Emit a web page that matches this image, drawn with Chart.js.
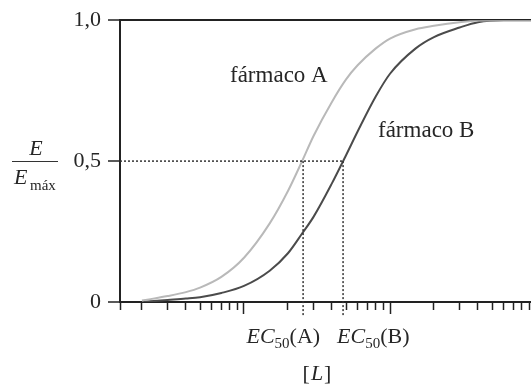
<!DOCTYPE html>
<html>
<head>
<meta charset="utf-8">
<script src="https://cdn.jsdelivr.net/npm/chart.js@4/dist/chart.umd.min.js"></script>
<style>
  body { margin: 0; background: #fff; }
  #wrap { width: 531px; height: 385px; position: relative; }
</style>
</head>
<body>
<div id="wrap"><canvas id="curves"></canvas></div>
<script>
// concentrations [L] (log axis, 1 and 10 are the long ticks)
const concentrations = [0.2, 0.3, 0.4, 0.5, 0.7, 1, 1.5, 2, 2.5, 3, 4, 5, 6, 8, 10, 15, 20, 30, 40, 60, 92.4];
// E / Emax
const farmacoA = [0.005, 0.021, 0.035, 0.051, 0.089, 0.157, 0.279, 0.394, 0.5, 0.59, 0.71, 0.79, 0.84, 0.9, 0.935, 0.968, 0.98, 0.993, 0.999, 1, 1];
const farmacoB = [0, 0.007, 0.012, 0.017, 0.032, 0.057, 0.111, 0.173, 0.243, 0.303, 0.421, 0.521, 0.605, 0.73, 0.81, 0.9, 0.94, 0.974, 0.993, 1, 1];
const ec50 = [2.54, 4.77]; // A, B
const yTicks = [0, 0.5, 1];
const xRange = [0.1415, 92.4];
const xTicks = [0.1415, 0.2, 0.3, 0.4, 0.5, 0.6, 0.7, 0.8, 0.9, 1,
  2, 3, 4, 5, 6, 7, 8, 9, 10, 20, 30, 40, 50, 60, 70, 80, 90];
const majorTicks = [1, 10];

const ink = '#222';
const lightGray = '#b9b9b9';
const darkGray = '#4b4b4b';
const serif = (size, style) => (style || '') + ' ' + size + 'px "Liberation Serif", "DejaVu Serif", serif';

function pts(ys) {
  return concentrations.map((c, i) => ({ x: c, y: ys[i] }));
}

const dotted = {
  borderColor: '#333',
  borderWidth: 1.5,
  borderDash: [2, 2],
  pointRadius: 0,
  clip: false,
  fill: false
};

const textPlugin = {
  id: 'textPlugin',
  afterDraw(chart) {
    const ctx = chart.ctx;
    const xs = chart.scales.x;
    ctx.save();
    ctx.fillStyle = '#262626';
    ctx.textBaseline = 'alphabetic';
    ctx.textAlign = 'left';

    ctx.font = serif(23);
    ctx.fillText('fármaco A', 230, 82);
    ctx.fillText('fármaco B', 378, 137);

    // EC50 labels under the axis
    function ec(letter, x, y, align) {
      ctx.font = serif(22, 'italic');
      const w1 = ctx.measureText('EC').width;
      ctx.font = serif(15);
      const w2 = ctx.measureText('50').width;
      ctx.font = serif(22);
      const w3 = ctx.measureText('(' + letter + ')').width;
      let sx = align === 'right' ? x - (w1 + w2 + w3) : x;
      ctx.font = serif(22, 'italic');
      ctx.fillText('EC', sx, y);
      ctx.font = serif(15);
      ctx.fillText('50', sx + w1, y + 5);
      ctx.font = serif(22);
      ctx.fillText('(' + letter + ')', sx + w1 + w2, y);
    }
    ec('A', xs.getPixelForValue(ec50[0]) + 17, 343, 'right');
    ec('B', xs.getPixelForValue(ec50[1]) - 6, 343, 'left');

    // [L]
    ctx.font = serif(22);
    const b1 = ctx.measureText('[').width;
    ctx.font = serif(22, 'italic');
    const b2 = ctx.measureText('L').width;
    ctx.font = serif(22);
    const b3 = ctx.measureText(']').width;
    let lx = 316 - (b1 + b2 + b3) / 2;
    ctx.fillText('[', lx, 380);
    ctx.font = serif(22, 'italic');
    ctx.fillText('L', lx + b1 + 1, 380);
    ctx.font = serif(22);
    ctx.fillText(']', lx + b1 + b2 + 2, 380);

    // E / Emax
    ctx.font = serif(22, 'italic');
    ctx.textAlign = 'center';
    ctx.fillText('E', 36, 155);
    ctx.textAlign = 'left';
    ctx.fillText('E', 14, 184);
    ctx.font = serif(15);
    ctx.fillText('máx', 30, 190);
    ctx.strokeStyle = '#333';
    ctx.lineWidth = 1.2;
    ctx.beginPath();
    ctx.moveTo(12, 161.5);
    ctx.lineTo(58, 161.5);
    ctx.stroke();
    ctx.restore();
  }
};

new Chart(document.getElementById('curves'), {
  type: 'line',
  data: {
    datasets: [
      Object.assign({ data: [{ x: xRange[0], y: 0.5 }, { x: ec50[1], y: 0.5 }] }, dotted),
      Object.assign({ data: [{ x: ec50[0], y: 0.5 }, { x: ec50[0], y: -0.05 }] }, dotted),
      Object.assign({ data: [{ x: ec50[1], y: 0.5 }, { x: ec50[1], y: -0.05 }] }, dotted),
      {
        label: 'fármaco A',
        data: pts(farmacoA),
        borderColor: lightGray,
        borderWidth: 2,
        pointRadius: 0,
        cubicInterpolationMode: 'monotone'
      },
      {
        label: 'fármaco B',
        data: pts(farmacoB),
        borderColor: darkGray,
        borderWidth: 2,
        pointRadius: 0,
        cubicInterpolationMode: 'monotone'
      }
    ]
  },
  options: {
    responsive: true,
    maintainAspectRatio: false,
    animation: false,
    layout: { padding: { top: 19, right: 0, left: 0, bottom: 0 } },
    plugins: {
      legend: { display: false },
      tooltip: { enabled: false }
    },
    scales: {
      x: {
        type: 'logarithmic',
        min: xRange[0],
        max: xRange[1],
        afterBuildTicks: (scale) => { scale.ticks = xTicks.map(v => ({ value: v })); },
        afterFit: (scale) => { scale.height = 83; },
        ticks: { display: false },
        border: { color: ink, width: 2 },
        grid: {
          drawOnChartArea: false,
          tickLength: 12,
          tickColor: ink,
          tickWidth: 1.5,
          tickBorderDash: (c) => majorTicks.includes(c.tick && c.tick.value) ? [] : [7, 30]
        }
      },
      y: {
        min: 0,
        max: 1,
        afterBuildTicks: (scale) => { scale.ticks = yTicks.map(v => ({ value: v })); },
        afterFit: (scale) => { scale.width = 120; },
        border: { color: ink, width: 2 },
        grid: {
          tickLength: 12,
          tickColor: ink,
          tickWidth: 1.5,
          lineWidth: 2,
          color: (c) => (c.tick && c.tick.value === 1) ? ink : 'rgba(0,0,0,0)'
        },
        ticks: {
          padding: 7,
          color: '#262626',
          font: { family: '"Liberation Serif", serif', size: 22 },
          callback: (v) => v === 0 ? '0' : v.toFixed(1).replace('.', ',')
        }
      }
    }
  },
  plugins: [textPlugin]
});
</script>
</body>
</html>
